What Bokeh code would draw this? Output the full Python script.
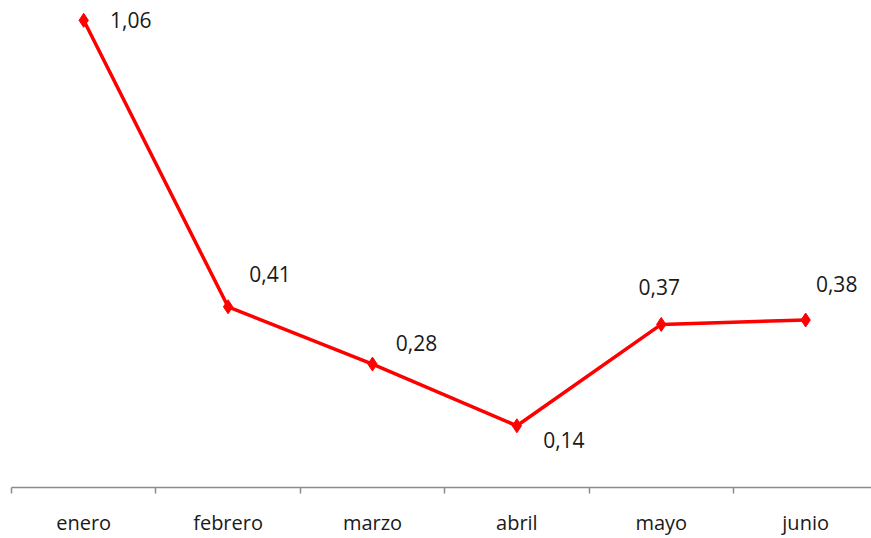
from bokeh.plotting import figure
from bokeh.models import ColumnDataSource, FixedTicker, Range1d
from bokeh.core.properties import value
from bokeh.embed import file_html
from bokeh.resources import INLINE

months = ["enero", "febrero", "marzo", "abril", "mayo", "junio"]
values = [1.06, 0.41, 0.28, 0.14, 0.37, 0.38]
labels = ["1,06", "0,41", "0,28", "0,14", "0,37", "0,38"]

# label offsets in screen pixels (style only)
label_dx = [47, 42, 44, 47, -2, 31]
label_dy = [0, -33, -21, 14, -37, -36]

xs = list(range(len(months)))
src = ColumnDataSource(dict(x=xs, y=values, lab=labels, dx=label_dx, dy=label_dy))

p = figure(width=871, height=538, output_backend="svg", toolbar_location=None,
           x_range=Range1d(-0.5, 5.456), y_range=Range1d(0, 1.105),
           min_border_left=11, min_border_right=0, min_border_top=0, min_border_bottom=0)
p.outline_line_color = None
p.grid.visible = False
p.yaxis.visible = False
p.background_fill_color = "white"
p.border_fill_color = "white"

ax = p.xaxis[0]
ax.ticker = FixedTicker(ticks=xs, minor_ticks=[i - 0.5 for i in range(len(months) + 1)])
ax.major_label_overrides = {i: m for i, m in enumerate(months)}
ax.major_tick_out = 0
ax.major_tick_in = 0
ax.minor_tick_out = 6
ax.minor_tick_in = 0
ax.minor_tick_line_color = "#8c8c8c"
ax.minor_tick_line_width = 1.5
ax.axis_line_color = "#8c8c8c"
ax.axis_line_width = 1.5
ax.major_label_standoff = 15
ax.major_label_text_font = "Open Sans"
ax.major_label_text_font_size = "20px"
ax.major_label_text_color = "#1a1a1a"

p.line("x", "y", source=src, line_color="#ff0000", line_width=3.5)
p.scatter("x", "y", source=src, marker="diamond", size=14, fill_color="#ff0000", line_color="#ff0000")
p.text("x", "y", text="lab", source=src, x_offset="dx", y_offset="dy",
       text_font=value("Open Sans"), text_font_size="21px", text_color="#1a1a1a",
       text_align="center", text_baseline="middle")

open("out.html", "w").write(file_html(p, INLINE))
